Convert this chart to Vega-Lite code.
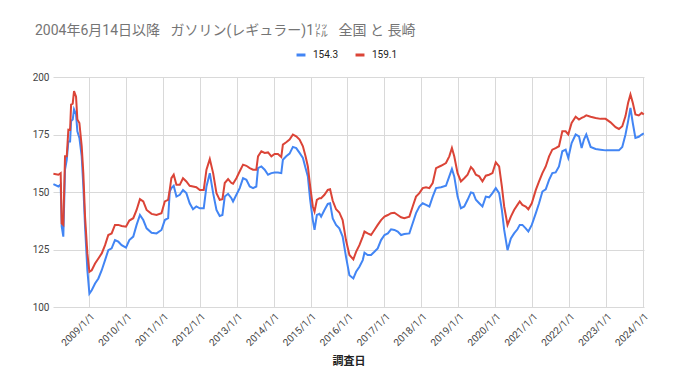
{
  "$schema": "https://vega.github.io/schema/vega-lite/v6.json",
  "autosize": {"type": "none"},
  "padding": {"left": 53, "top": 77, "right": 35, "bottom": 75},
  "width": 591,
  "height": 230,
  "background": "#ffffff",
  "title": {
    "text": "2004年6月14日以降\u00a0\u00a0\u00a0ガソリン(レギュラー)1㍑\u00a0\u00a0\u00a0全国 と 長崎",
    "anchor": "start",
    "frame": "group",
    "dx": -18,
    "offset": 0,
    "baseline": "alphabetic",
    "font": "Roboto, 'Noto Sans CJK JP'",
    "fontSize": 14,
    "fontWeight": "normal",
    "color": "#757575"
  },
  "config": {
    "view": {"stroke": null},
    "axis": {"labelFont": "Roboto", "titleFont": "Noto Sans CJK JP"}
  },
  "data": {
    "values": [
      {"d": "2008-01-14", "n": 153.4, "c": 157.9},
      {"d": "2008-03-03", "n": 152.4, "c": 157.5},
      {"d": "2008-03-26", "n": 153.3, "c": 158.2},
      {"d": "2008-04-05", "n": 135.0, "c": 136.4},
      {"d": "2008-04-21", "n": 130.6, "c": 135.7},
      {"d": "2008-05-08", "n": 159.7, "c": 165.5},
      {"d": "2008-05-25", "n": 164.0, "c": 165.5},
      {"d": "2008-06-10", "n": 172.0, "c": 177.1},
      {"d": "2008-06-27", "n": 172.0, "c": 177.0},
      {"d": "2008-07-07", "n": 180.8, "c": 188.0},
      {"d": "2008-07-23", "n": 181.5, "c": 188.4},
      {"d": "2008-08-05", "n": 185.9, "c": 193.9},
      {"d": "2008-08-25", "n": 183.7, "c": 191.4},
      {"d": "2008-09-07", "n": 176.4, "c": 181.5},
      {"d": "2008-09-27", "n": 173.5, "c": 180.0},
      {"d": "2008-10-20", "n": 165.5, "c": 169.9},
      {"d": "2008-11-05", "n": 152.4, "c": 158.2},
      {"d": "2008-11-22", "n": 134.9, "c": 139.3},
      {"d": "2008-12-15", "n": 116.0, "c": 123.3},
      {"d": "2009-01-04", "n": 105.8, "c": 115.3},
      {"d": "2009-01-27", "n": 107.3, "c": 116.0},
      {"d": "2009-03-01", "n": 110.2, "c": 118.9},
      {"d": "2009-04-03", "n": 112.4, "c": 121.1},
      {"d": "2009-05-06", "n": 116.0, "c": 123.3},
      {"d": "2009-06-08", "n": 120.4, "c": 126.9},
      {"d": "2009-07-10", "n": 124.7, "c": 131.3},
      {"d": "2009-08-12", "n": 125.5, "c": 132.0},
      {"d": "2009-09-14", "n": 129.1, "c": 135.7},
      {"d": "2009-10-17", "n": 128.4, "c": 135.7},
      {"d": "2009-11-19", "n": 126.9, "c": 135.2},
      {"d": "2010-01-01", "n": 125.8, "c": 134.9},
      {"d": "2010-02-03", "n": 129.1, "c": 137.6},
      {"d": "2010-03-14", "n": 130.6, "c": 138.6},
      {"d": "2010-04-16", "n": 135.7, "c": 142.2},
      {"d": "2010-05-19", "n": 140.0, "c": 146.9},
      {"d": "2010-06-21", "n": 137.8, "c": 145.9},
      {"d": "2010-07-24", "n": 134.2, "c": 142.2},
      {"d": "2010-09-11", "n": 132.3, "c": 140.5},
      {"d": "2010-10-30", "n": 132.0, "c": 140.0},
      {"d": "2010-12-18", "n": 133.5, "c": 140.8},
      {"d": "2011-01-20", "n": 137.8, "c": 145.9},
      {"d": "2011-02-22", "n": 138.6, "c": 146.6},
      {"d": "2011-03-10", "n": 150.2, "c": 151.0},
      {"d": "2011-03-26", "n": 151.7, "c": 156.0},
      {"d": "2011-04-18", "n": 152.7, "c": 157.5},
      {"d": "2011-05-15", "n": 148.0, "c": 153.1},
      {"d": "2011-06-17", "n": 148.8, "c": 153.1},
      {"d": "2011-07-19", "n": 150.9, "c": 156.0},
      {"d": "2011-08-21", "n": 149.5, "c": 154.6},
      {"d": "2011-09-23", "n": 145.1, "c": 152.7},
      {"d": "2011-10-26", "n": 142.5, "c": 152.4},
      {"d": "2011-11-28", "n": 143.7, "c": 152.1},
      {"d": "2012-01-01", "n": 142.9, "c": 150.9},
      {"d": "2012-02-09", "n": 142.9, "c": 150.9},
      {"d": "2012-03-07", "n": 152.4, "c": 159.7},
      {"d": "2012-04-09", "n": 158.2, "c": 164.3},
      {"d": "2012-05-12", "n": 149.5, "c": 158.2},
      {"d": "2012-06-14", "n": 142.2, "c": 149.5},
      {"d": "2012-07-16", "n": 139.6, "c": 146.6},
      {"d": "2012-08-12", "n": 140.0, "c": 146.9},
      {"d": "2012-09-04", "n": 148.0, "c": 153.9},
      {"d": "2012-10-07", "n": 149.2, "c": 155.6},
      {"d": "2012-11-09", "n": 147.3, "c": 153.9},
      {"d": "2012-11-25", "n": 145.9, "c": 153.6},
      {"d": "2012-12-28", "n": 148.8, "c": 156.0},
      {"d": "2013-01-30", "n": 151.7, "c": 159.0},
      {"d": "2013-03-04", "n": 156.0, "c": 161.9},
      {"d": "2013-04-06", "n": 155.3, "c": 161.4},
      {"d": "2013-05-09", "n": 152.4, "c": 160.4},
      {"d": "2013-06-11", "n": 151.7, "c": 159.7},
      {"d": "2013-07-13", "n": 152.4, "c": 159.7},
      {"d": "2013-07-30", "n": 160.4, "c": 165.5},
      {"d": "2013-09-01", "n": 161.1, "c": 167.7},
      {"d": "2013-10-04", "n": 159.7, "c": 167.0},
      {"d": "2013-11-06", "n": 157.5, "c": 167.2},
      {"d": "2013-12-09", "n": 158.2, "c": 165.5},
      {"d": "2014-01-10", "n": 158.5, "c": 166.5},
      {"d": "2014-02-12", "n": 158.5, "c": 166.5},
      {"d": "2014-03-17", "n": 158.2, "c": 165.2},
      {"d": "2014-04-02", "n": 164.0, "c": 170.6},
      {"d": "2014-05-05", "n": 165.5, "c": 171.6},
      {"d": "2014-06-07", "n": 166.7, "c": 172.8},
      {"d": "2014-07-10", "n": 169.6, "c": 175.0},
      {"d": "2014-08-12", "n": 169.1, "c": 174.2},
      {"d": "2014-09-14", "n": 167.0, "c": 172.8},
      {"d": "2014-10-17", "n": 164.8, "c": 169.9},
      {"d": "2014-11-12", "n": 160.4, "c": 165.5},
      {"d": "2014-12-05", "n": 156.8, "c": 161.1},
      {"d": "2014-12-28", "n": 146.6, "c": 152.4},
      {"d": "2015-01-23", "n": 137.8, "c": 143.7},
      {"d": "2015-02-09", "n": 133.5, "c": 141.5},
      {"d": "2015-03-04", "n": 140.0, "c": 146.6},
      {"d": "2015-03-30", "n": 140.5, "c": 147.3},
      {"d": "2015-04-15", "n": 139.3, "c": 147.3},
      {"d": "2015-05-18", "n": 142.2, "c": 148.8},
      {"d": "2015-06-20", "n": 144.8, "c": 150.9},
      {"d": "2015-07-13", "n": 145.1, "c": 151.2},
      {"d": "2015-08-08", "n": 138.5, "c": 146.2},
      {"d": "2015-09-10", "n": 135.7, "c": 142.5},
      {"d": "2015-10-12", "n": 134.2, "c": 141.1},
      {"d": "2015-11-14", "n": 130.6, "c": 137.8},
      {"d": "2015-12-17", "n": 121.9, "c": 129.1},
      {"d": "2016-01-20", "n": 113.8, "c": 122.6},
      {"d": "2016-02-28", "n": 112.4, "c": 120.7},
      {"d": "2016-03-26", "n": 115.3, "c": 124.0},
      {"d": "2016-04-28", "n": 117.5, "c": 126.9},
      {"d": "2016-05-31", "n": 120.4, "c": 130.6},
      {"d": "2016-06-17", "n": 123.6, "c": 132.8},
      {"d": "2016-07-19", "n": 122.6, "c": 132.0},
      {"d": "2016-08-21", "n": 122.6, "c": 131.3},
      {"d": "2016-09-23", "n": 124.0, "c": 133.5},
      {"d": "2016-10-26", "n": 125.5, "c": 135.7},
      {"d": "2016-11-28", "n": 129.1, "c": 137.8},
      {"d": "2017-01-01", "n": 131.3, "c": 139.3},
      {"d": "2017-02-03", "n": 132.0, "c": 140.0},
      {"d": "2017-03-07", "n": 133.8, "c": 140.8},
      {"d": "2017-04-09", "n": 133.5, "c": 141.0},
      {"d": "2017-05-12", "n": 132.8, "c": 140.0},
      {"d": "2017-06-14", "n": 131.3, "c": 139.0},
      {"d": "2017-07-16", "n": 131.7, "c": 138.6},
      {"d": "2017-09-04", "n": 132.0, "c": 139.3},
      {"d": "2017-10-07", "n": 136.4, "c": 143.7},
      {"d": "2017-11-09", "n": 140.8, "c": 148.0},
      {"d": "2017-12-12", "n": 143.7, "c": 149.5},
      {"d": "2018-01-14", "n": 145.1, "c": 151.7},
      {"d": "2018-02-16", "n": 144.4, "c": 152.1},
      {"d": "2018-03-21", "n": 143.7, "c": 151.7},
      {"d": "2018-04-23", "n": 148.0, "c": 153.9},
      {"d": "2018-05-26", "n": 151.7, "c": 160.4},
      {"d": "2018-07-14", "n": 152.1, "c": 161.4},
      {"d": "2018-09-01", "n": 152.7, "c": 162.6},
      {"d": "2018-10-04", "n": 156.8, "c": 165.5},
      {"d": "2018-10-30", "n": 160.0, "c": 169.1},
      {"d": "2018-11-22", "n": 156.8, "c": 165.5},
      {"d": "2018-12-25", "n": 148.0, "c": 158.2},
      {"d": "2019-01-27", "n": 142.9, "c": 154.6},
      {"d": "2019-03-01", "n": 143.7, "c": 156.0},
      {"d": "2019-04-03", "n": 146.6, "c": 157.5},
      {"d": "2019-05-06", "n": 149.8, "c": 160.8},
      {"d": "2019-05-29", "n": 149.5, "c": 159.7},
      {"d": "2019-06-24", "n": 146.6, "c": 157.5},
      {"d": "2019-07-27", "n": 145.1, "c": 156.8},
      {"d": "2019-08-28", "n": 143.7, "c": 154.6},
      {"d": "2019-09-30", "n": 148.0, "c": 157.1},
      {"d": "2019-11-02", "n": 147.7, "c": 157.5},
      {"d": "2019-12-05", "n": 149.5, "c": 158.2},
      {"d": "2020-01-07", "n": 151.7, "c": 162.9},
      {"d": "2020-02-09", "n": 149.5, "c": 161.1},
      {"d": "2020-03-07", "n": 142.2, "c": 152.4},
      {"d": "2020-03-30", "n": 133.5, "c": 143.7},
      {"d": "2020-05-02", "n": 124.7, "c": 135.7},
      {"d": "2020-06-04", "n": 129.8, "c": 139.3},
      {"d": "2020-07-06", "n": 132.0, "c": 142.2},
      {"d": "2020-08-08", "n": 133.8, "c": 144.4},
      {"d": "2020-08-31", "n": 135.7, "c": 145.9},
      {"d": "2020-09-26", "n": 135.7, "c": 144.4},
      {"d": "2020-10-29", "n": 134.2, "c": 143.7},
      {"d": "2020-11-24", "n": 132.8, "c": 142.5},
      {"d": "2020-12-28", "n": 135.7, "c": 145.1},
      {"d": "2021-02-06", "n": 140.8, "c": 150.9},
      {"d": "2021-03-10", "n": 145.1, "c": 154.6},
      {"d": "2021-04-12", "n": 150.2, "c": 158.2},
      {"d": "2021-05-15", "n": 151.2, "c": 161.1},
      {"d": "2021-06-17", "n": 155.3, "c": 165.5},
      {"d": "2021-07-19", "n": 158.2, "c": 168.4},
      {"d": "2021-08-21", "n": 158.5, "c": 169.1},
      {"d": "2021-09-23", "n": 161.1, "c": 169.9},
      {"d": "2021-10-26", "n": 167.7, "c": 176.4},
      {"d": "2021-11-28", "n": 168.4, "c": 176.4},
      {"d": "2021-12-24", "n": 164.8, "c": 175.0},
      {"d": "2022-01-26", "n": 171.3, "c": 180.0},
      {"d": "2022-03-07", "n": 175.0, "c": 182.7},
      {"d": "2022-04-09", "n": 174.2, "c": 181.5},
      {"d": "2022-05-05", "n": 169.1, "c": 182.2},
      {"d": "2022-05-28", "n": 172.8, "c": 182.7},
      {"d": "2022-06-20", "n": 175.0, "c": 183.3},
      {"d": "2022-08-02", "n": 169.6, "c": 182.7},
      {"d": "2022-09-20", "n": 168.7, "c": 182.2},
      {"d": "2022-11-08", "n": 168.4, "c": 181.8},
      {"d": "2022-12-28", "n": 168.1, "c": 181.8},
      {"d": "2023-02-15", "n": 168.1, "c": 180.3},
      {"d": "2023-04-06", "n": 168.1, "c": 178.2},
      {"d": "2023-05-09", "n": 168.1, "c": 177.4},
      {"d": "2023-06-11", "n": 169.6, "c": 178.6},
      {"d": "2023-07-13", "n": 175.0, "c": 183.0},
      {"d": "2023-08-08", "n": 180.8, "c": 188.8},
      {"d": "2023-08-31", "n": 186.6, "c": 192.4},
      {"d": "2023-09-23", "n": 180.0, "c": 188.8},
      {"d": "2023-10-19", "n": 173.5, "c": 183.7},
      {"d": "2023-11-21", "n": 174.0, "c": 183.3},
      {"d": "2023-12-20", "n": 175.0, "c": 184.4},
      {"d": "2024-01-10", "n": 175.5, "c": 183.7}
    ]
  },
  "transform": [
    {"fold": ["n", "c"], "as": ["key", "value"]}
  ],
  "mark": {"type": "line", "strokeWidth": 2, "interpolate": "linear"},
  "encoding": {
    "x": {
      "field": "d",
      "type": "temporal",
      "title": "調査日",
      "scale": {"domain": ["2008-01-10", "2024-01-12"]},
      "axis": {
        "format": "%Y/%-m/%-d",
        "tickCount": {"interval": "year", "step": 1},
        "labelAngle": -45,
        "labelFontSize": 10,
        "labelColor": "#444444",
        "labelPadding": 4,
        "ticks": false,
        "domain": false,
        "grid": true,
        "gridColor": "#d9d9d9",
        "gridWidth": 1,
        "labelFlush": false,
        "labelOverlap": false,
        "titleFontSize": 11,
        "titleFontWeight": "bold",
        "titleColor": "#222222",
        "titlePadding": 8
      }
    },
    "y": {
      "field": "value",
      "type": "quantitative",
      "title": null,
      "scale": {"domain": [100, 200], "nice": false, "zero": false},
      "axis": {
        "values": [100, 125, 150, 175, 200],
        "labelFontSize": 10,
        "labelColor": "#444444",
        "labelPadding": 4,
        "ticks": false,
        "domain": false,
        "gridColor": "#d9d9d9",
        "gridWidth": 1
      }
    },
    "color": {
      "field": "key",
      "type": "nominal",
      "sort": ["n", "c"],
      "scale": {"domain": ["n", "c"], "range": ["#4285F4", "#DB4437"]},
      "legend": {
        "title": null,
        "orient": "none",
        "direction": "horizontal",
        "legendX": 242,
        "legendY": -28,
        "symbolType": "stroke",
        "symbolSize": 80,
        "symbolStrokeWidth": 3,
        "labelExpr": "datum.label == 'n' ? '154.3' : '159.1'",
        "labelFont": "Roboto",
        "labelFontSize": 10,
        "labelColor": "#222222",
        "labelOffset": 6,
        "columnPadding": 10
      }
    }
  }
}
